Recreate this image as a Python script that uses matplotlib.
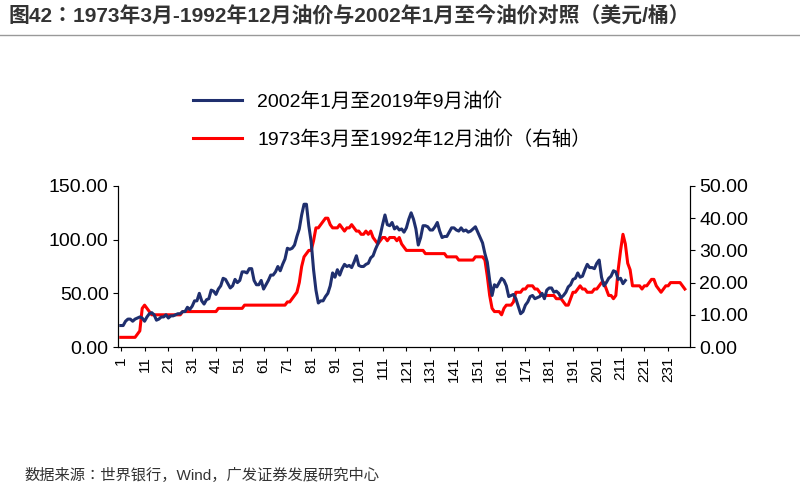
import matplotlib
matplotlib.use("Agg")
import matplotlib.pyplot as plt
from matplotlib import font_manager
import numpy as np

cjk = [f.name for f in font_manager.fontManager.ttflist if 'CJK' in f.name]
pref = [n for n in cjk if 'Sans' in n and 'SC' in n] or [n for n in cjk if 'Sans' in n] or cjk
plt.rcParams['font.family'] = ['Liberation Sans'] + (pref[:1] if pref else []) + ['DejaVu Sans']

blue_label = "2002年1月至2019年9月油价"
red_label = "1973年3月至1992年12月油价（右轴）"
blue = [20,20,24,26,26,24,26,27,28,27,24,28,
        31,32,30,25,26,28,28,30,27,29,29,30,
        31,31,33,33,37,35,38,43,43,50,43,40,
        44,45,53,52,49,54,57,64,63,59,55,57,
        63,60,62,70,70,69,73,73,62,58,58,62,
        54,58,62,67,67,70,75,71,77,82,92,91,
        92,95,103,110,123,133,133,113,98,72,53,41,
        43,43,47,50,57,69,65,72,67,73,77,75,
        76,74,79,85,76,75,75,77,78,83,85,91,
        96,104,114,123,114,113,116,110,112,109,110,107,
        111,119,125,119,110,95,102,113,113,112,109,109,
        112,116,108,102,103,103,107,111,111,109,108,111,
        108,109,107,108,110,112,107,102,97,87,79,62,
        48,58,56,60,64,62,57,47,48,49,45,38,
        31,33,39,42,47,48,45,46,47,50,45,53,
        55,55,51,52,50,46,48,51,56,58,63,64,
        69,65,66,72,77,74,74,73,78,81,65,57,
        60,64,66,71,70,63,64,59,62]
red = [3,3,3,3,3,3,3,4,5,12,
       13,12,11,10,10,10,10,10,10,10,10,10,
       10,10,10,10,11,11,11,11,11,11,11,11,
       11,11,11,11,11,11,11,12,12,12,12,12,
       12,12,12,12,12,12,13,13,13,13,13,13,
       13,13,13,13,13,13,13,13,13,13,13,13,
       14,14,15,16,17,20,25,28,29,30,30,33,
       37,37,38,39,40,40,38,37,37,37,38,37,
       36,37,37,38,37,36,36,35,35,36,35,36,
       34,33,32,33,34,34,33,34,34,34,33,34,
       32,31,30,30,30,30,30,30,30,30,29,29,
       29,29,29,29,29,29,29,28,28,28,28,28,
       27,27,27,27,27,27,27,28,28,28,28,27,
       22,16,12,11,11,11,10,12,13,13,13,14,
       17,17,17,18,18,19,19,19,18,18,17,16,
       16,16,16,16,16,15,15,15,14,13,13,15,
       17,17,18,19,18,18,17,17,17,18,18,19,
       20,20,18,16,16,15,16,24,30,35,32,26,
       24,19,19,19,19,18,19,19,20,21,21,19,
       18,17,18,19,19,20,20,20,20,20,19,18]
xticks = list(range(1, 240, 10))

fig = plt.figure(figsize=(8, 5), dpi=100)
ax = fig.add_axes([0.148, 0.306, 0.714, 0.322])
ax2 = ax.twinx()
l1, = ax.plot(np.arange(1, len(blue)+1), blue, color='#1f2f6e', lw=2.2)
l2, = ax2.plot(np.arange(1, len(red)+1), red, color='#ff0000', lw=2.2)
ax.set_zorder(ax2.get_zorder()+1); ax.patch.set_visible(False)
ax.set_ylim(0, 150); ax2.set_ylim(0, 50)
ax.set_xlim(0, 240)
ax.set_yticks([0, 50, 100, 150]); ax2.set_yticks([0, 10, 20, 30, 40, 50])
ax.set_yticklabels([f"{v:.2f}" for v in [0, 50, 100, 150]], fontsize=14)
ax2.set_yticklabels([f"{v:.2f}" for v in [0, 10, 20, 30, 40, 50]], fontsize=14)
ax.set_xticks(xticks)
ax.set_xticklabels([str(t) for t in xticks], rotation=90, fontsize=11)
ax.tick_params(axis='x', length=3)
for a in (ax, ax2):
    a.spines['top'].set_visible(False)
ax.legend([l1, l2], [blue_label, red_label], loc='lower left', bbox_to_anchor=(0.1, 1.12),
          frameon=False, fontsize=14, handlelength=2.5, labelspacing=1.0)
fig.text(0.01, 0.955, "图42：1973年3月-1992年12月油价与2002年1月至今油价对照（美元/桶）",
         fontsize=15, fontweight='bold', color='#333333')
fig.add_artist(plt.Line2D([0.0, 1.0], [0.93, 0.93], color='#999999', lw=1))
fig.text(0.03, 0.04, "数据来源：世界银行，Wind，广发证券发展研究中心", fontsize=11, color='#333333')
fig.savefig("out.png", dpi=100)
